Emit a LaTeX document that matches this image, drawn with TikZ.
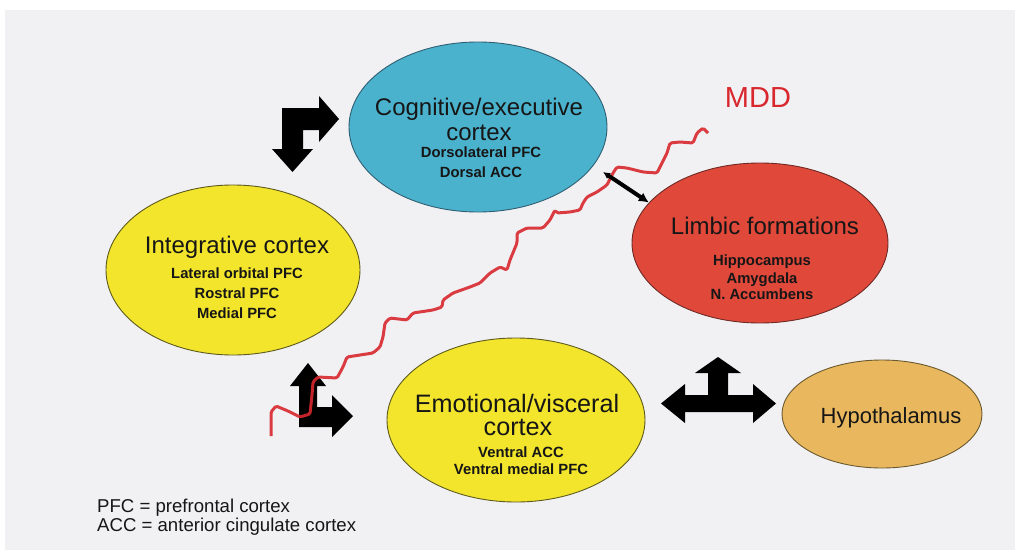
\documentclass[tikz,border=0pt]{standalone}
\usepackage{fontspec}
\setmainfont{Liberation Sans}
\usetikzlibrary{shapes.geometric,arrows.meta}

\definecolor{page}{HTML}{F1F1F4}
\definecolor{cogblue}{HTML}{4BB2CE}
\definecolor{cogedge}{HTML}{2F5F72}
\definecolor{yell}{HTML}{F2E52C}
\definecolor{yelledge}{HTML}{5E5A1E}
\definecolor{limred}{HTML}{E0483A}
\definecolor{limedge}{HTML}{6E2A24}
\definecolor{hypo}{HTML}{E9B85E}
\definecolor{hypoedge}{HTML}{6B5A30}
\definecolor{mddred}{HTML}{D8282E}
\definecolor{ink}{HTML}{161616}

\begin{document}
\begin{tikzpicture}[x=1pt,y=-1pt,
  region/.style={ellipse, draw, line width=0.9pt, inner sep=0pt},
  title/.style={anchor=base, inner sep=0pt, text=ink, font=\fontsize{24}{28}\selectfont},
  sub/.style={anchor=base, inner sep=0pt, text=ink, font=\fontsize{14.8}{18}\selectfont\bfseries},
  legend/.style={anchor=base west, inner sep=0pt, text=ink, font=\fontsize{18.6}{21}\selectfont},
  blockarrow/.style={fill=black},
  mddline/.style={draw=mddred, line width=3pt, rounded corners=1.5pt, line join=round, opacity=0.9},
]

% page
\fill[white] (0,0) rectangle (1015,554);
\fill[page] (5,10) rectangle (1015,550);
\useasboundingbox (0,0) rectangle (1015,554);

% regions
\node[region, fill=cogblue, draw=cogedge, minimum width=258, minimum height=170] (cog) at (478,127) {};
\node[region, fill=yell, draw=yelledge, minimum width=254, minimum height=170] (integ) at (233,270) {};
\node[region, fill=limred, draw=limedge, minimum width=256, minimum height=160] (limbic) at (760,243) {};
\node[region, fill=yell, draw=yelledge, minimum width=258, minimum height=164] (emot) at (516,420) {};
\node[region, fill=hypo, draw=hypoedge, minimum width=200, minimum height=108] (hypo) at (882,414) {};

% region texts
\node[title] (cogA) at (479,115) {Cognitive/executive};
\node[title] (cogB) at (479,140) {cortex};
\node[sub] (cogC) at (481,157) {Dorsolateral PFC};
\node[sub] (cogD) at (481,177) {Dorsal ACC};

\node[title] (integA) at (237,253) {Integrative cortex};
\node[sub] (integB) at (237,278) {Lateral orbital PFC};
\node[sub] (integC) at (237,298) {Rostral PFC};
\node[sub] (integD) at (237,318) {Medial PFC};

\node[title] (limA) at (765,234) {Limbic formations};
\node[sub] (limB) at (762,265) {Hippocampus};
\node[sub] (limC) at (762,283) {Amygdala};
\node[sub] (limD) at (762,299) {N. Accumbens};

\node[title, font=\fontsize{25.2}{28}\selectfont] (emotA) at (517,412) {Emotional/visceral};
\node[title, font=\fontsize{25.2}{28}\selectfont] (emotB) at (518,435) {cortex};
\node[sub] (emotC) at (521,457) {Ventral ACC};
\node[sub] (emotD) at (521,474) {Ventral medial PFC};

\node[title, font=\fontsize{22}{26}\selectfont] (hypoA) at (891,423) {Hypothalamus};

% block arrows
\fill[blockarrow] (282,108) -- (319,108) -- (319,96) -- (339,119) -- (319,142) -- (319,130)
  -- (303,130) -- (303,149) -- (313,149) -- (292.5,172) -- (272,149) -- (282,149) -- cycle;
\fill[blockarrow] (299,427) -- (299,386) -- (290,386) -- (308,363) -- (326,386) -- (317,386)
  -- (317,407) -- (332,407) -- (332,395) -- (353,416) -- (332,437) -- (332,427) -- cycle;
\fill[blockarrow] (661,403.5) -- (685,384) -- (685,395) -- (708,395) -- (708,373) -- (695,373)
  -- (718,357) -- (741,373) -- (728,373) -- (728,395) -- (753,395) -- (753,384) -- (776,403.5)
  -- (753,423) -- (753,412) -- (685,412) -- (685,423) -- cycle;

% MDD wave
\draw[mddline] (271,436) -- (271,412) -- (276,406) -- (288,411) -- (300,417) -- (310,414)
  -- (312,395) -- (313,382) -- (318,377) -- (337,378) -- (343,367) -- (347,357) -- (360,355)
  -- (373,353) -- (380,347) -- (383,337) -- (385,323) -- (390,318) -- (407,320) -- (413,313)
  -- (433,310) -- (442,307) -- (443,300) -- (453,293) -- (470,287) -- (480,283) -- (490,273)
  -- (500,267) -- (507,270) -- (510,260) -- (517,243) -- (517,233) -- (527,228) -- (543,228)
  -- (550,220) -- (555,210) -- (557,213) -- (570,212) -- (580,210) -- (583,203) -- (587,197)
  -- (597,192) -- (607,185) -- (613,173) -- (617,167) -- (627,168) -- (643,172) -- (657,173)
  -- (660,167) -- (667,153) -- (670,143) -- (680,142) -- (693,143) -- (697,133) -- (703,128)
  -- (708,133);
\node[anchor=base, inner sep=0pt, text=mddred, font=\fontsize{29}{32}\selectfont] (mdd) at (758,107) {MDD};

% link from the wave to the limbic formations
\coordinate (wavetouch) at (603,172);
\draw[line width=4pt, {Latex[length=7pt,width=7pt]}-{Latex[length=10pt,width=10pt]}] (wavetouch) -- (limbic.160);

% legend
\node[legend] (legA) at (97,512) {PFC = prefrontal cortex};
\node[legend] (legB) at (97,531) {ACC = anterior cingulate cortex};

\end{tikzpicture}
\end{document}
